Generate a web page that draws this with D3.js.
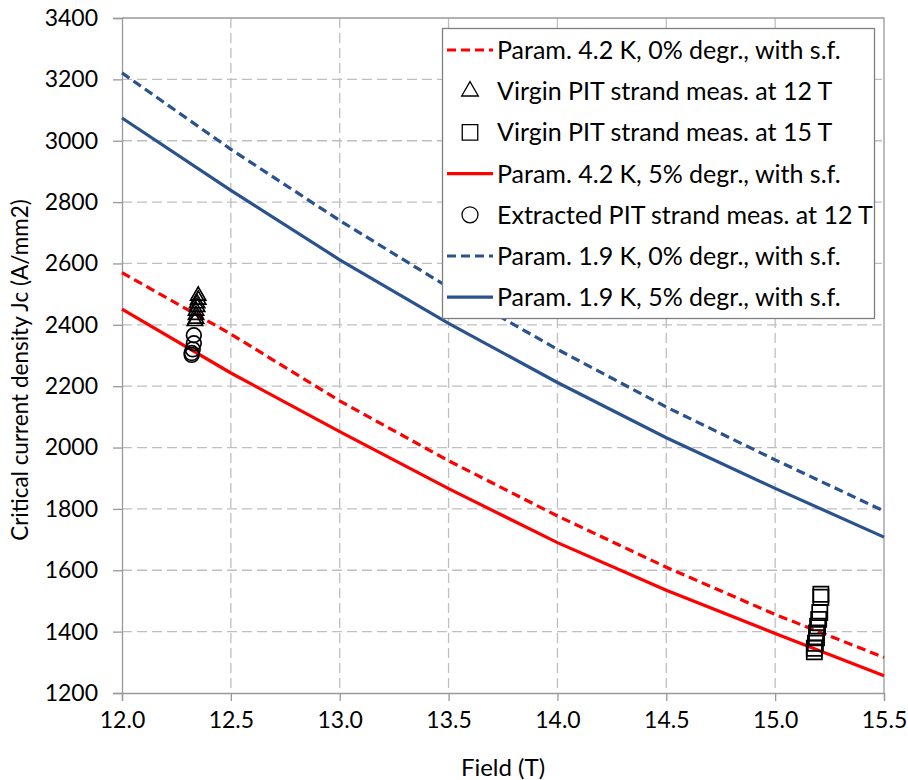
<!DOCTYPE html>
<html>
<head>
<meta charset="utf-8">
<script src="https://cdn.jsdelivr.net/npm/d3@7"></script>
<style>
  html, body { margin: 0; padding: 0; background: #fff; }
  svg { display: block; font-family: Lato, "Open Sans", sans-serif; }
</style>
</head>
<body>
<svg id="chart" width="908" height="780"></svg>
<script>
// Field values (T) at which the parametrisation curves are evaluated
const fields = [12.0, 12.5, 13.0, 13.5, 14.0, 14.5, 15.0, 15.5];

// Parametrised Jc (A/mm2)
const jc42_0 = [2570, 2370, 2152, 1957, 1777, 1610, 1456, 1316];
const jc42_5 = [2451, 2243, 2052, 1866, 1690, 1535, 1394, 1256];
const jc19_0 = [3221, 2972, 2740, 2522, 2320, 2132, 1960, 1793];
const jc19_5 = [3074, 2838, 2612, 2405, 2212, 2032, 1867, 1708];

// Measurements
const virgin12Field = [12.35, 12.35, 12.345, 12.345, 12.34, 12.34, 12.34, 12.335];
const virgin12Jc    = [2495, 2482, 2470, 2458, 2446, 2432, 2420, 2412];
const virgin15Field = [15.21, 15.21, 15.205, 15.2, 15.195, 15.19, 15.19, 15.185, 15.18, 15.18];
const virgin15Jc    = [1522, 1512, 1462, 1440, 1418, 1396, 1380, 1362, 1346, 1334];
const extr12Field   = [12.33, 12.33, 12.325, 12.32, 12.32];
const extr12Jc      = [2366, 2340, 2320, 2308, 2302];

// Axis ticks
const xTicks = [12.0, 12.5, 13.0, 13.5, 14.0, 14.5, 15.0, 15.5];
const yTicks = [1200, 1400, 1600, 1800, 2000, 2200, 2400, 2600, 2800, 3000, 3200, 3400];

const RED = "#ff0000";
const BLUE = "#2a528f";

const svg = d3.select("#chart");
const m = { left: 122, top: 18, right: 884, bottom: 693 };

const x = d3.scaleLinear().domain([12.0, 15.5]).range([m.left, m.right]);
const y = d3.scaleLinear().domain([1200, 3400]).range([m.bottom, m.top]);

// Grid
const grid = svg.append("g");
grid.selectAll("line.gx").data(xTicks.slice(1, -1)).join("line")
  .attr("x1", d => x(d)).attr("x2", d => x(d))
  .attr("y1", m.top).attr("y2", m.bottom)
  .attr("stroke", "#bfbfbf").attr("stroke-width", 1.3).attr("stroke-dasharray", "10,5");
grid.selectAll("line.gy").data(yTicks.slice(1, -1)).join("line")
  .attr("x1", m.left).attr("x2", m.right)
  .attr("y1", d => y(d)).attr("y2", d => y(d))
  .attr("stroke", "#bfbfbf").attr("stroke-width", 1.3).attr("stroke-dasharray", "10,5");

// Plot frame (top and right)
svg.append("path")
  .attr("d", `M${m.left},${m.top}H${m.right}V${m.bottom}`)
  .attr("fill", "none").attr("stroke", "#999").attr("stroke-width", 1.3);

// Axes
const xAxis = svg.append("g").attr("transform", `translate(0,${m.bottom})`)
  .call(d3.axisBottom(x).tickValues(xTicks).tickFormat(d3.format(".1f")).tickSizeOuter(0).tickSize(8).tickPadding(11));
const yAxis = svg.append("g").attr("transform", `translate(${m.left},0)`)
  .call(d3.axisLeft(y).tickValues(yTicks).tickFormat(d3.format("d")).tickSizeOuter(0).tickSize(9).tickPadding(15));
[xAxis, yAxis].forEach(a => {
  a.select(".domain").attr("stroke", "#999").attr("stroke-width", 1.3);
  a.selectAll(".tick line").attr("stroke", "#999").attr("stroke-width", 1.3);
  a.selectAll(".tick text").attr("fill", "#000").style("font-size", "23px").style("font-family", "Lato, sans-serif");
});

// Axis titles
svg.append("text").attr("x", 503).attr("y", 776).attr("text-anchor", "middle")
  .style("font-size", "24px").text("Field (T)");
svg.append("text").attr("transform", "translate(28,370) rotate(-90)").attr("text-anchor", "middle")
  .style("font-size", "22.5px").text("Critical current density Jc (A/mm2)");

// Curves
const line = d3.line().x(d => x(d[0])).y(d => y(d[1]));
const curves = [
  { v: jc19_0, color: BLUE, dash: "9,5" },
  { v: jc19_5, color: BLUE, dash: null },
  { v: jc42_0, color: RED, dash: "9,5" },
  { v: jc42_5, color: RED, dash: null }
];
curves.forEach(c => {
  svg.append("path").datum(fields.map((f, i) => [f, c.v[i]]))
    .attr("d", line).attr("fill", "none")
    .attr("stroke", c.color).attr("stroke-width", 3.2)
    .attr("stroke-dasharray", c.dash);
});

// Markers
const triPath = d3.symbol().type(d3.symbolTriangle).size(100)();
const sqPath = d3.symbol().type(d3.symbolSquare).size(230)();
const cirPath = d3.symbol().type(d3.symbolCircle).size(170)();

function markers(fs, vs, p) {
  svg.append("g").selectAll("path").data(fs.map((f, i) => [f, vs[i]])).join("path")
    .attr("d", p).attr("transform", d => `translate(${x(d[0])},${y(d[1])})`)
    .attr("fill", "none").attr("stroke", "#000").attr("stroke-width", 1.7);
}
markers(virgin12Field, virgin12Jc, triPath);
markers(virgin15Field, virgin15Jc, sqPath);
markers(extr12Field, extr12Jc, cirPath);

// Legend
const legendItems = [
  { label: "Param. 4.2 K, 0% degr., with s.f.", kind: "line", color: RED, dash: "9,5" },
  { label: "Virgin PIT strand meas. at 12 T", kind: "sym", path: d3.symbol().type(d3.symbolTriangle).size(120)() },
  { label: "Virgin PIT strand meas. at 15 T", kind: "sym", path: d3.symbol().type(d3.symbolSquare).size(240)() },
  { label: "Param. 4.2 K, 5% degr., with s.f.", kind: "line", color: RED, dash: null },
  { label: "Extracted PIT strand meas. at 12 T", kind: "sym", path: d3.symbol().type(d3.symbolCircle).size(200)() },
  { label: "Param. 1.9 K, 0% degr., with s.f.", kind: "line", color: BLUE, dash: "9,5" },
  { label: "Param. 1.9 K, 5% degr., with s.f.", kind: "line", color: BLUE, dash: null }
];
const lg = svg.append("g");
lg.append("rect").attr("x", 442.5).attr("y", 28.5).attr("width", 432).attr("height", 290)
  .attr("fill", "#fff").attr("stroke", "#7f7f7f").attr("stroke-width", 1.3);
legendItems.forEach((it, i) => {
  const cy = 50 + i * 41.2;
  if (it.kind === "line") {
    lg.append("line").attr("x1", 447).attr("x2", 493).attr("y1", cy).attr("y2", cy)
      .attr("stroke", it.color).attr("stroke-width", 3.2).attr("stroke-dasharray", it.dash);
  } else {
    lg.append("path").attr("d", it.path).attr("transform", `translate(470,${cy})`)
      .attr("fill", "none").attr("stroke", "#000").attr("stroke-width", 1.3);
  }
  lg.append("text").attr("x", 497).attr("y", cy + 9).style("font-size", "25px").text(it.label);
});
</script>
</body>
</html>
